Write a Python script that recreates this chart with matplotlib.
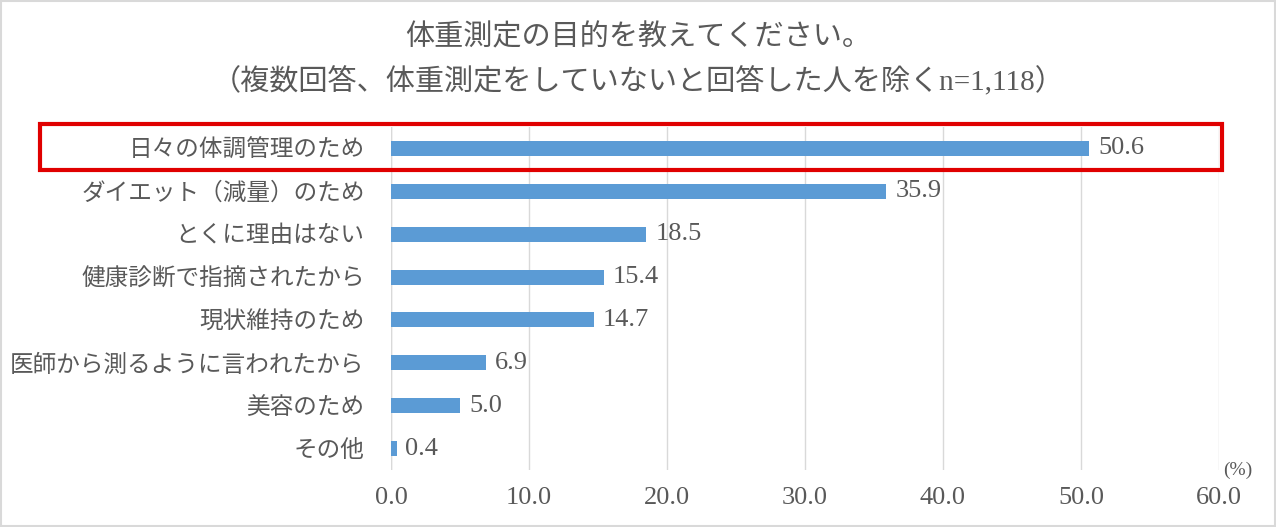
import matplotlib
matplotlib.use('Agg')
import matplotlib.pyplot as plt
from matplotlib.patches import Rectangle

plt.rcParams['font.family'] = ['Liberation Serif', 'Noto Sans CJK JP']

labels = ['日々の体調管理のため', 'ダイエット（減量）のため', 'とくに理由はない',
          '健康診断で指摘されたから', '現状維持のため', '医師から測るように言われたから',
          '美容のため', 'その他']
values = [50.6, 35.9, 18.5, 15.4, 14.7, 6.9, 5.0, 0.4]
xticks = [0, 10, 20, 30, 40, 50, 60]

text_color = '#595959'
bar_color = '#5B9BD5'

fig = plt.figure(figsize=(12.76, 5.27), dpi=100)
ax = fig.add_axes([391 / 1276, 1 - 470 / 527, (1219 - 391) / 1276, (470 - 127) / 527])

y = list(range(len(labels)))
ax.barh(y, values, height=0.35, color=bar_color, zorder=3)
ax.set_ylim(len(labels) - 0.5, -0.5)
ax.set_xlim(0, 60)
ax.set_xticks(xticks)
ax.set_xticklabels([f'{t:.1f}' for t in xticks], fontsize=19, color=text_color)
ax.set_yticks(y)
ax.set_yticklabels(labels, fontsize=17, color=text_color)
ax.tick_params(axis='both', length=0)
ax.tick_params(axis='x', pad=12)
ax.tick_params(axis='y', pad=19)
ax.grid(axis='x', color='#D9D9D9', linewidth=1, zorder=0)
for s in ax.spines.values():
    s.set_visible(False)
ax.axvline(0, color='#D9D9D9', linewidth=1, zorder=1)

for yi, v in zip(y, values):
    ax.text(v + 0.65, yi, f'{v:.1f}', va='center', ha='left', fontsize=19, color=text_color)

fig.text(1238 / 1276, 1 - 470 / 527, '(%)', fontsize=14, color=text_color, ha='center', va='center')

fig.text(0.5, 1 - 38 / 527, '体重測定の目的を教えてください。', fontsize=21,
         color=text_color, ha='center', va='center')
fig.text(0.5, 1 - 82 / 527, '（複数回答、体重測定をしていないと回答した人を除くn=1,118）',
         fontsize=21, color=text_color, ha='center', va='center')

# red highlight box
fig.patches.append(Rectangle((40 / 1276, 1 - 170 / 527), (1222 - 40) / 1276, 46 / 527,
                             transform=fig.transFigure, fill=False,
                             edgecolor='#E00000', linewidth=3))
# outer border
fig.patches.append(Rectangle((0.001, 0.002), 0.998, 0.996, transform=fig.transFigure,
                             fill=False, edgecolor='#D9D9D9', linewidth=1.5))

fig.savefig('out.png', dpi=100)
